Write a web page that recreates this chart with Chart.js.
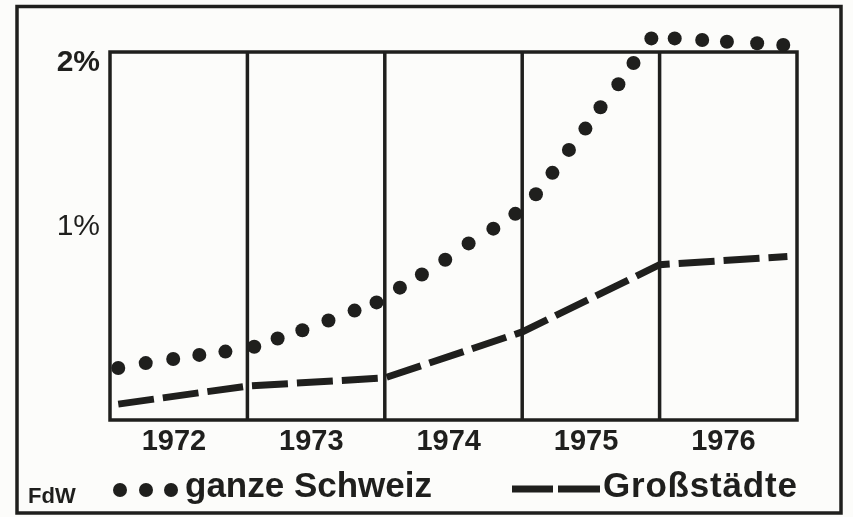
<!DOCTYPE html>
<html>
<head>
<meta charset="utf-8">
<script src="https://cdn.jsdelivr.net/npm/chart.js@4"></script>
<style>
  html, body { margin: 0; padding: 0; background: #fcfcfa; }
  #wrap { width: 853px; height: 517px; position: relative; }
</style>
</head>
<body>
<div id="wrap"><canvas id="chart" width="853" height="517"></canvas></div>
<script>
// years shown under the plot, one band per year
const yearLabels = ['1972', '1973', '1974', '1975', '1976'];

// y ticks (percent)
const yTicks = [1, 2];
const yTickLabels = ['1%', '2%'];

// ganze Schweiz (dotted) – position in years, value in %
const schweizX = [1972.06, 1972.26, 1972.46, 1972.65, 1972.84, 1973.05, 1973.22, 1973.40, 1973.59, 1973.78,
  1973.94, 1974.11, 1974.27, 1974.44, 1974.61, 1974.79, 1974.95, 1975.10, 1975.22, 1975.34,
  1975.46, 1975.57, 1975.70, 1975.81, 1975.94, 1976.11, 1976.31, 1976.49, 1976.71, 1976.90];
const schweizY = [0.14, 0.17, 0.195, 0.22, 0.24, 0.27, 0.32, 0.37, 0.43, 0.49,
  0.54, 0.63, 0.71, 0.80, 0.90, 0.99, 1.08, 1.20, 1.33, 1.47,
  1.60, 1.73, 1.87, 2.00, 2.15, 2.15, 2.14, 2.13, 2.12, 2.11];

// Großstädte (dashed)
const staedteX = [1972.06, 1973.0, 1974.0, 1975.0, 1976.0, 1976.93];
const staedteY = [-0.08, 0.03, 0.08, 0.36, 0.77, 0.82];

// top edge of the boxed plot, in % (dots of 1976 sit above it)
const plotTop = 2.067;

const INK = '#1f1f1d';
const FONT = '"Liberation Sans", Arial, sans-serif';
const firstYear = Number(yearLabels[0]);
const lastYear = firstYear + yearLabels.length;

const framePlugin = {
  id: 'frame',
  beforeDatasetsDraw(chart) {
    const { ctx, chartArea: a, scales } = chart;
    const top = scales.y.getPixelForValue(plotTop);
    ctx.save();
    ctx.strokeStyle = INK;
    ctx.lineWidth = 3.5;
    ctx.strokeRect(a.left, top, a.right - a.left, a.bottom - top);
    ctx.beginPath();
    for (let yr = firstYear + 1; yr < lastYear; yr++) {
      const x = scales.x.getPixelForValue(yr);
      ctx.moveTo(x, top);
      ctx.lineTo(x, a.bottom);
    }
    ctx.stroke();
    ctx.restore();
  },
  afterDraw(chart) {
    const ctx = chart.ctx;
    const ds = chart.data.datasets;
    ctx.save();
    // outer border
    ctx.strokeStyle = INK;
    ctx.lineWidth = 3.5;
    ctx.strokeRect(17, 6.5, 824, 506.5);

    ctx.fillStyle = INK;
    ctx.textBaseline = 'alphabetic';
    ctx.font = 'bold 22px ' + FONT;
    ctx.fillText('FdW', 28, 503, 52);

    // dotted legend
    [120, 146, 171].forEach(x => {
      ctx.beginPath();
      ctx.arc(x, 490, 7, 0, Math.PI * 2);
      ctx.fill();
    });
    ctx.font = 'bold 35px ' + FONT;
    ctx.fillText(ds[0].label, 185, 497, 254);

    // dashed legend
    ctx.lineWidth = 7;
    ctx.beginPath();
    ctx.moveTo(512, 489); ctx.lineTo(553, 489);
    ctx.moveTo(558, 489); ctx.lineTo(600, 489);
    ctx.stroke();
    ctx.letterSpacing = '0.8px';
    ctx.fillText(ds[1].label, 603, 497, 197);
    ctx.restore();
  }
};

new Chart(document.getElementById('chart'), {
  type: 'scatter',
  data: {
    datasets: [
      {
        label: 'ganze Schweiz',
        data: schweizX.map((x, i) => ({ x, y: schweizY[i] })),
        showLine: false,
        pointRadius: 7,
        pointHoverRadius: 7,
        pointBackgroundColor: INK,
        pointBorderWidth: 0,
        clip: false
      },
      {
        label: 'Großstädte',
        data: staedteX.map((x, i) => ({ x, y: staedteY[i] })),
        showLine: true,
        borderColor: INK,
        borderWidth: 7,
        borderDash: [36, 9],
        borderCapStyle: 'butt',
        tension: 0,
        pointRadius: 0,
        pointHoverRadius: 0
      }
    ]
  },
  options: {
    responsive: false,
    animation: false,
    events: [],
    layout: { padding: { left: 0, right: 56, top: 22, bottom: 0 } },
    plugins: {
      legend: { display: false },
      tooltip: { enabled: false }
    },
    scales: {
      x: {
        type: 'linear',
        min: firstYear,
        max: lastYear,
        afterBuildTicks(axis) {
          axis.ticks = yearLabels.map((l, i) => ({ value: firstYear + i + 0.465 }));
        },
        afterFit(axis) {
          axis.height = 97;
          axis.paddingLeft = 0;
          axis.paddingRight = 0;
        },
        border: { display: false },
        grid: { display: false, drawTicks: false },
        ticks: {
          padding: 5,
          color: INK,
          font: { family: FONT, size: 29, weight: 'bold' },
          maxRotation: 0,
          autoSkip: false,
          callback(value) {
            return yearLabels[Math.floor(value) - firstYear];
          }
        }
      },
      y: {
        min: -0.177,
        max: 2.25,
        afterBuildTicks(axis) {
          axis.ticks = yTicks.map(v => ({ value: v }));
        },
        afterFit(axis) {
          axis.width = 110;
          axis.paddingTop = 0;
          axis.paddingBottom = 0;
        },
        border: { display: false },
        grid: { display: false, drawTicks: false },
        ticks: {
          padding: 10,
          color: INK,
          font: ctx => ({
            family: FONT,
            size: 30,
            weight: ctx.tick && ctx.tick.value === 2 ? 'bold' : 'normal'
          }),
          callback(value) {
            const i = yTicks.indexOf(value);
            return i >= 0 ? yTickLabels[i] : '';
          }
        }
      }
    }
  },
  plugins: [framePlugin]
});
</script>
</body>
</html>
